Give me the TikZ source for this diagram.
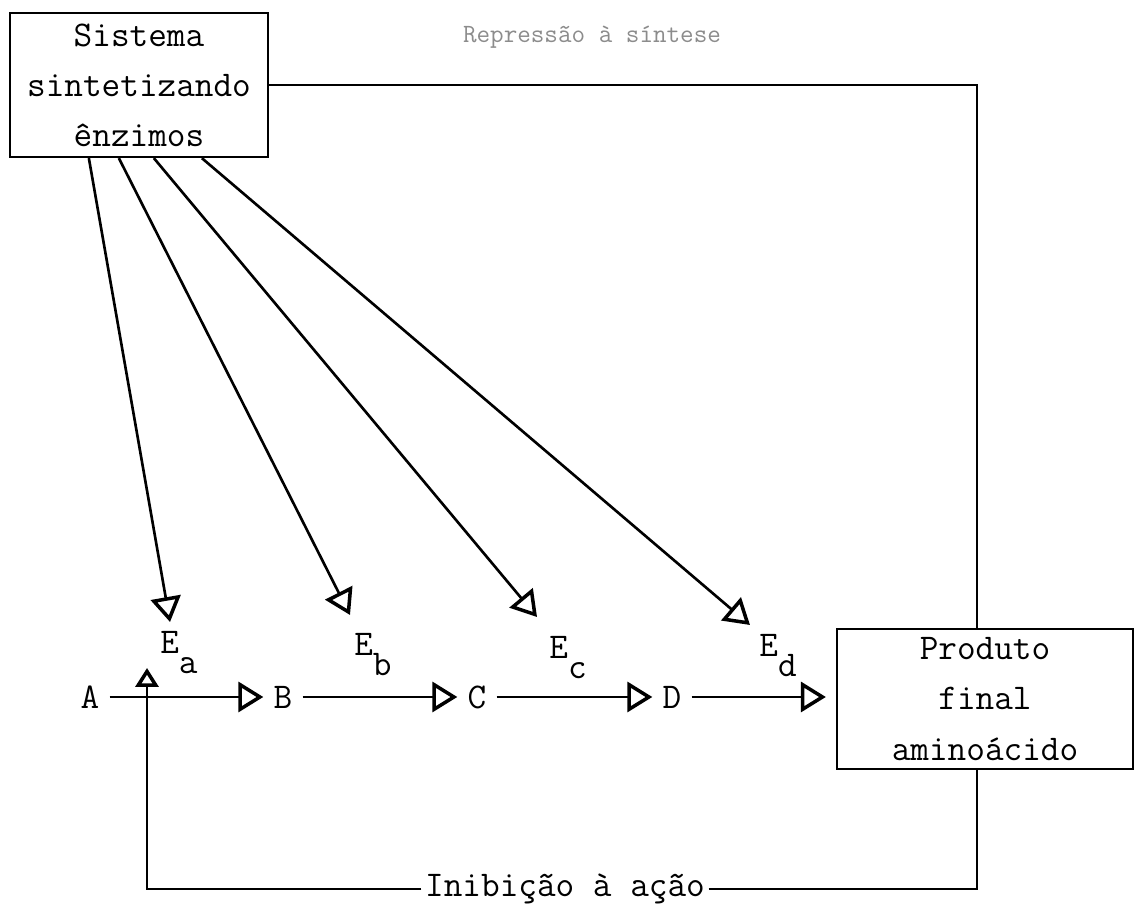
\documentclass[tikz,border=0pt]{standalone}
\usepackage{fontspec}
\usetikzlibrary{arrows.meta}
\tikzset{
  txt/.style={font=\fontsize{20.6}{28.5}\selectfont\ttfamily},
  caixa/.style={txt, draw, line width=1.3pt, align=center},
  letra/.style={txt, inner xsep=0.2cm},
  seta/.style={line width=1.5pt, -{Triangle[open, length=0.5cm, width=0.6cm, line width=2pt]}},
}
\newcommand{\enz}[1]{E\raisebox{-0.55em}{#1}}
\begin{document}
\begin{tikzpicture}
\useasboundingbox (0,0) rectangle (22.72,18.14);
\node[caixa, minimum width=5.16cm, minimum height=2.88cm] (sis) at (2.78,16.44) {Sistema\\sintetizando\\ênzimos};
\node[caixa, minimum width=5.92cm, minimum height=2.80cm] (prod) at (19.70,4.16) {Produto\\final\\amino\'acido};
\node[font=\fontsize{15}{16}\selectfont\ttfamily, text=black!45] (repr) at (11.84,17.40) {Repressão à síntese};
\foreach \n/\x in {A/1.80, B/5.66, C/9.54, D/13.44} \node[letra] (\n) at (\x,4.20) {\n};
% enzimas
\node[txt, inner sep=0pt, anchor=base west] (Ea) at (3.20,5.06) {\enz{a}};
\node[txt, inner sep=0pt, anchor=base west] (Eb) at (7.08,5.02) {\enz{b}};
\node[txt, inner sep=0pt, anchor=base west] (Ec) at (10.98,4.96) {\enz{c}};
\node[txt, inner sep=0pt, anchor=base west] (Ed) at (15.18,5.00) {\enz{d}};
\coordinate (ta) at (3.40,5.70);\coordinate (tb) at (7.00,5.84);
\coordinate (tc) at (10.74,5.80);\coordinate (td) at (15.00,5.64);
\foreach \s/\t in {1.60/ta, 2.20/tb, 2.90/tc, 3.86/td} \draw[seta] ([xshift=\s cm]sis.south west) -- (\t);
\draw[seta] (A) -- (B);\draw[seta] (B) -- (C);\draw[seta] (C) -- (D);
\draw[seta, shorten >=0.2cm] (D) -- (D -| prod.west);
% retroacao
\node[txt, inner sep=2pt] (inib) at (11.30,0.36) {Inibição à ação};
\coordinate (up) at (2.94,4.78);
\draw[line width=1.5pt, -{Triangle[open, length=0.38cm, width=0.46cm, line width=2pt]}] (inib.west) -| (up);
\draw[line width=1.5pt] (inib.east) -| ([xshift=-0.16cm]prod.south);
\draw[line width=0.6pt] (sis.east) -| ([xshift=-0.16cm]prod.north);
\end{tikzpicture}
\end{document}
